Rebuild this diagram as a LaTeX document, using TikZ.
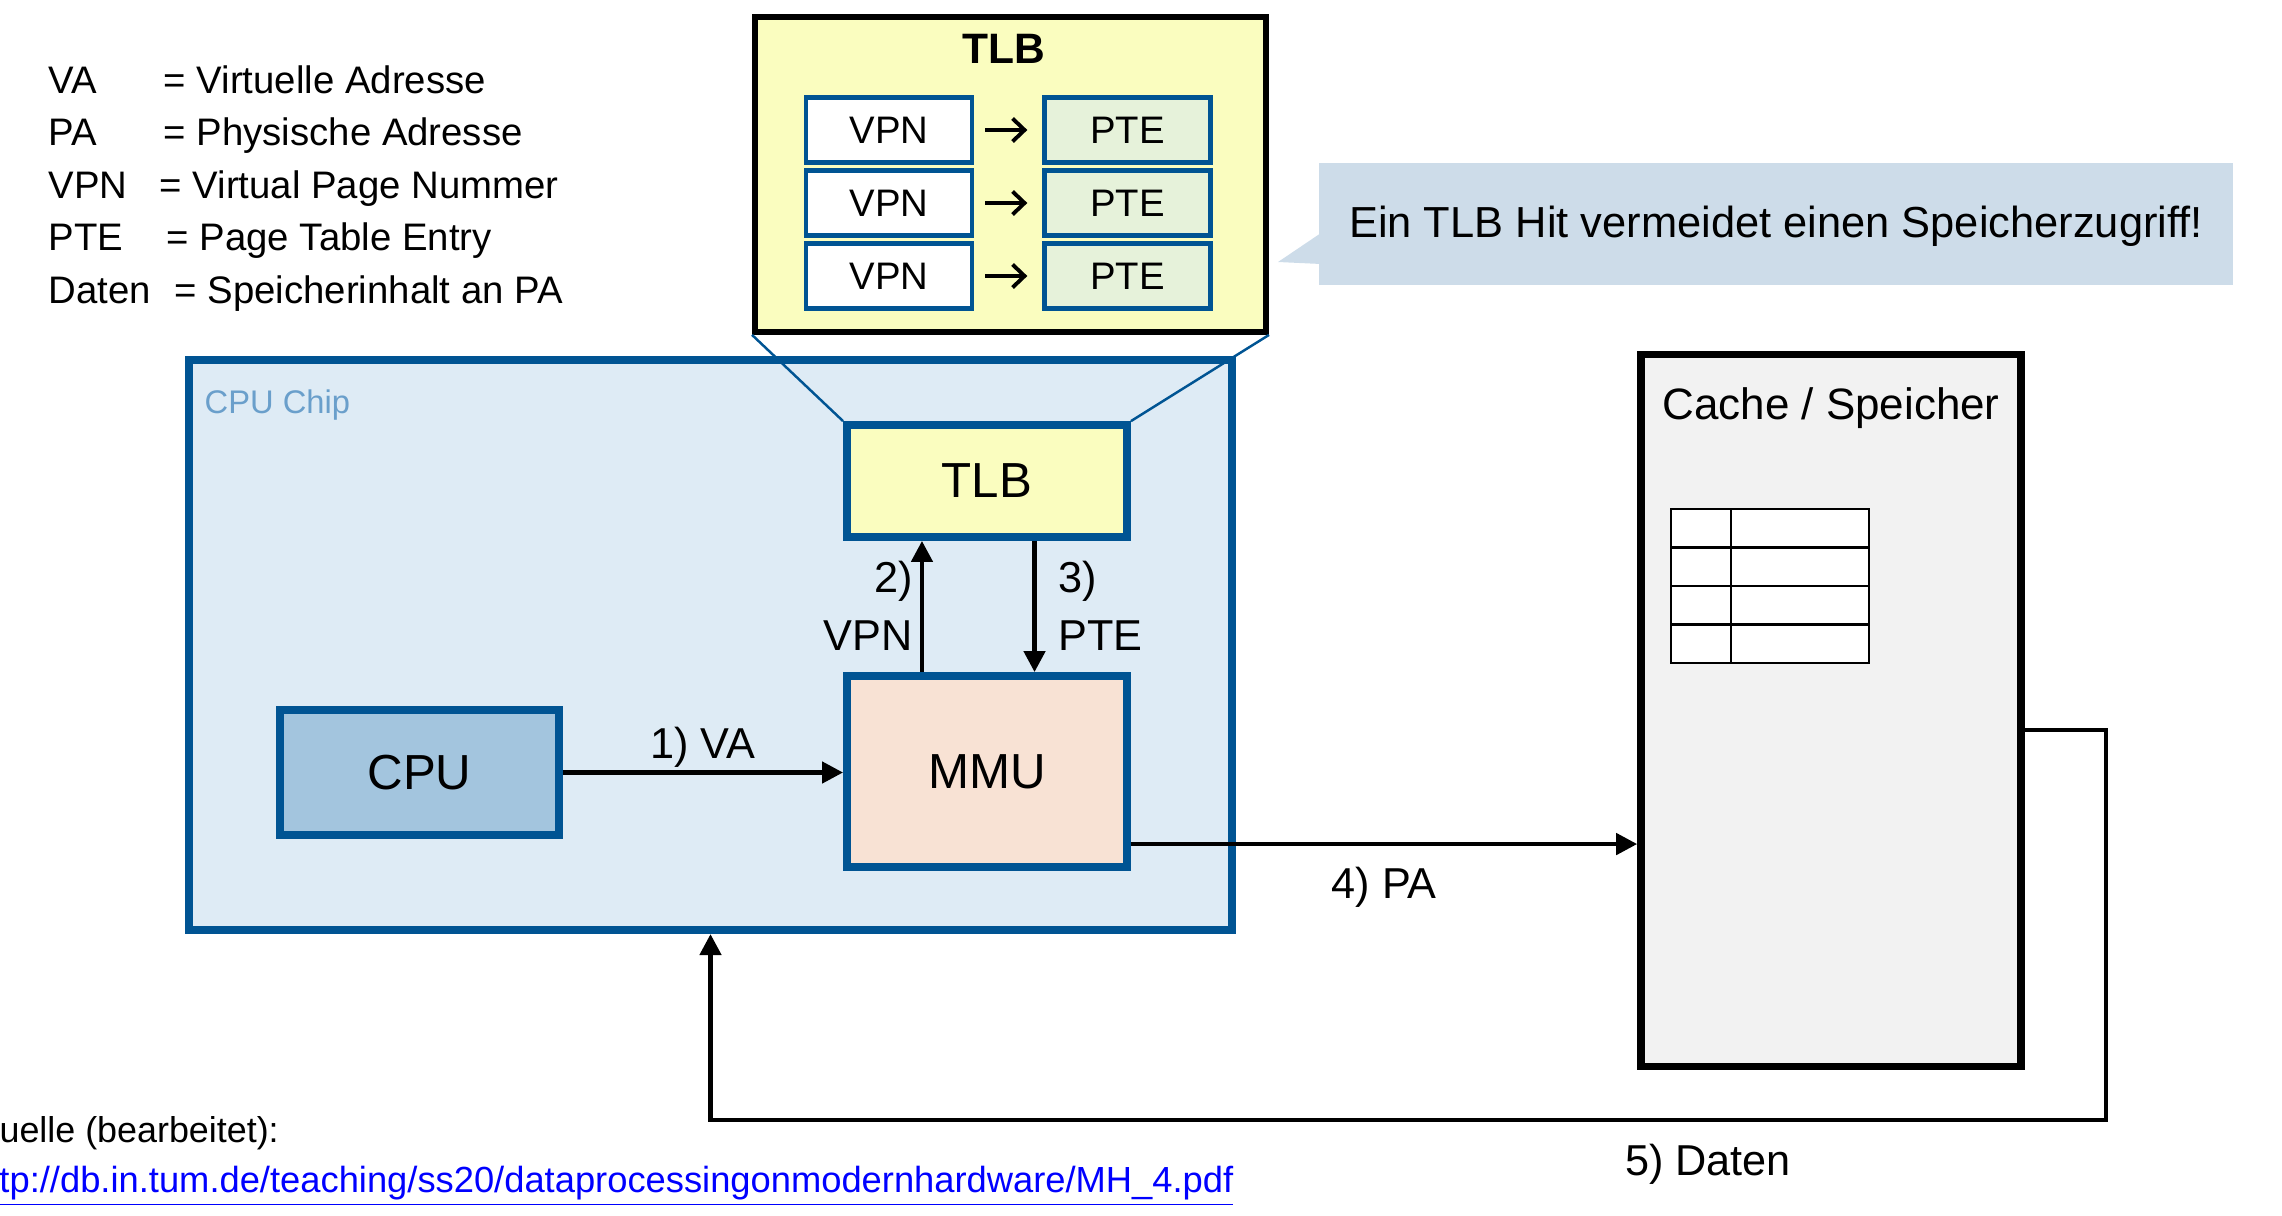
\documentclass[tikz,border=0pt]{standalone}
\usepackage{fontspec}
\setmainfont{Liberation Sans}
\usetikzlibrary{arrows.meta, positioning}

\definecolor{chipblue}{RGB}{0,84,147}
\definecolor{chipfill}{RGB}{222,235,245}
\definecolor{chiptext}{RGB}{106,159,203}
\definecolor{cpufill}{RGB}{163,197,222}
\definecolor{mmufill}{RGB}{248,226,212}
\definecolor{tlbfill}{RGB}{250,253,191}
\definecolor{ptefill}{RGB}{230,242,218}
\definecolor{hintfill}{RGB}{205,220,233}
\definecolor{memfill}{RGB}{242,242,242}
\definecolor{linkblue}{RGB}{0,0,255}

\tikzset{>=Stealth}
\tikzset{
  unitbox/.style={draw=chipblue, line width=2.2pt, inner sep=0pt, font=\fontsize{14}{17}\selectfont},
  entrybox/.style={draw=chipblue, line width=1.2pt, inner sep=0pt, minimum width=1.66cm, minimum height=0.65cm, font=\fontsize{10.9}{13}\selectfont},
  maparrow/.style={-{Straight Barb[length=0.12cm,width=0.23cm]}, line width=1.1pt, shorten <=0.11cm, shorten >=0.15cm},
  flow/.style={-{Triangle[length=0.21cm,width=0.21cm]}, line width=1.3pt},
  steplabel/.style={font=\fontsize{12.3}{16.6}\selectfont},
  legend/.style={font=\fontsize{10.9}{13}\selectfont, inner sep=0pt, anchor=base west},
}

\begin{document}
\begin{tikzpicture}[x=0.01cm, y=-0.01cm]
  \useasboundingbox (0,0) rectangle (2282,1215);

  % Legend
  \foreach \abbr/\eqx/\desc [count=\i] in {VA/163/Virtuelle Adresse, PA/163/Physische Adresse, VPN/159/Virtual Page Nummer, PTE/166/Page Table Entry, Daten/174/Speicherinhalt an PA} {
    \node[legend] (abbr\i) at (48,{93+52.5*(\i-1)}) {\abbr};
    \node[legend] (desc\i) at (\eqx,{93+52.5*(\i-1)}) {= \desc};
  }

  % CPU chip
  \node[draw=chipblue, fill=chipfill, line width=2.2pt, minimum width=10.43cm, minimum height=5.70cm] (chip) at (710.5,645) {};
  \node[anchor=base west, inner sep=0pt, text=chiptext, font=\fontsize{9.3}{11}\selectfont] (chiplabel) at (204,413) {CPU Chip};

  % TLB detail
  \node[draw=black, fill=tlbfill, line width=1.6pt, minimum width=5.11cm, minimum height=3.15cm] (tlbbig) at (1010.5,174.5) {};
  \node[font=\bfseries\fontsize{12.1}{14}\selectfont] (tlbtitle) at (1004,49) {TLB};
  \foreach \y [count=\i] in {130,203,276} {
    \node[entrybox, fill=white] (vpn\i) at (889,\y) {VPN};
    \node[entrybox, fill=ptefill] (pte\i) at (1127.5,\y) {PTE};
    \draw[maparrow] (vpn\i) -- (pte\i);
  }

  % Hint
  \fill[hintfill] (1321,233) -- (1278,262) -- (1321,264) -- cycle;
  \node[fill=hintfill, minimum width=9.14cm, minimum height=1.22cm, font=\fontsize{12.35}{15}\selectfont, text depth=0.05cm] (hint) at (1776,224) {Ein TLB Hit vermeidet einen Speicherzugriff!};

  % Units in the chip
  \node[unitbox, fill=cpufill, minimum width=2.79cm, minimum height=1.25cm] (cpu) at (419.5,772.5) {CPU};
  \node[unitbox, fill=mmufill, minimum width=2.80cm, minimum height=1.91cm] (mmu) at (987,771.5) {MMU};
  \node[unitbox, fill=tlbfill, minimum width=2.80cm, minimum height=1.12cm] (tlb) at (987,481) {TLB};
  \draw[chipblue, line width=0.7pt] (tlbbig.south west) -- (tlb.north west);
  \draw[chipblue, line width=0.7pt] (tlbbig.south east) -- (tlb.north east);

  % Memory
  \node[draw=black, fill=memfill, line width=2.1pt, minimum width=3.80cm, minimum height=7.11cm] (mem) at (1831,710.5) {};
  \node[font=\fontsize{12.5}{15}\selectfont] (memtitle) at (1831,408) {Cache / Speicher};
  \draw[line width=0.8pt, fill=white] (1671,509) rectangle (1869,663);
  \foreach \i in {1,2,3}
    \draw[line width=0.8pt] (1671,{509+38.5*\i}) -- (1869,{509+38.5*\i});
  \draw[line width=0.8pt] (1731,509) -- (1731,663);

  % Connectors
  \draw[flow] (cpu.east) -- (cpu.east -| mmu.west) node[midway, above=-0.09cm, steplabel] (valabel) {1) VA};
  \draw[flow] ([xshift=-0.65cm]mmu.north) -- ([xshift=-0.65cm]tlb.south);
  \draw[flow] ([xshift=0.475cm]tlb.south) -- ([xshift=0.475cm]mmu.north);
  \node[steplabel, align=right, anchor=east] (vpnlabel) at (925,606) {2)\\VPN};
  \node[steplabel, align=left, anchor=west] (ptelabel) at (1046,606) {3)\\PTE};
  \draw[flow] ([yshift=-0.725cm]mmu.east) -- ([yshift=-0.725cm]mmu.east -| mem.west) node[midway, below=0.09cm, steplabel] (palabel) {4) PA};
  \coordinate (dataturn) at (2106,1120);
  \draw[flow] ([yshift=-0.195cm]mem.east) -| (dataturn) -| (chip.south);
  \node[steplabel] (datalabel) at (1708,1164) {5) Daten};

  % Source
  \node[anchor=base west, inner sep=0pt, font=\fontsize{10.2}{12}\selectfont] (source) at (-29,1142) {Quelle (bearbeitet):};
  \node[anchor=base west, inner sep=0pt, text=linkblue, font=\fontsize{10.33}{12}\selectfont] (sourcelink) at (-31.5,1192) {\underline{http://db.in.tum.de/teaching/ss20/dataprocessingonmodernhardware/MH\_4.pdf}};
\end{tikzpicture}
\end{document}
